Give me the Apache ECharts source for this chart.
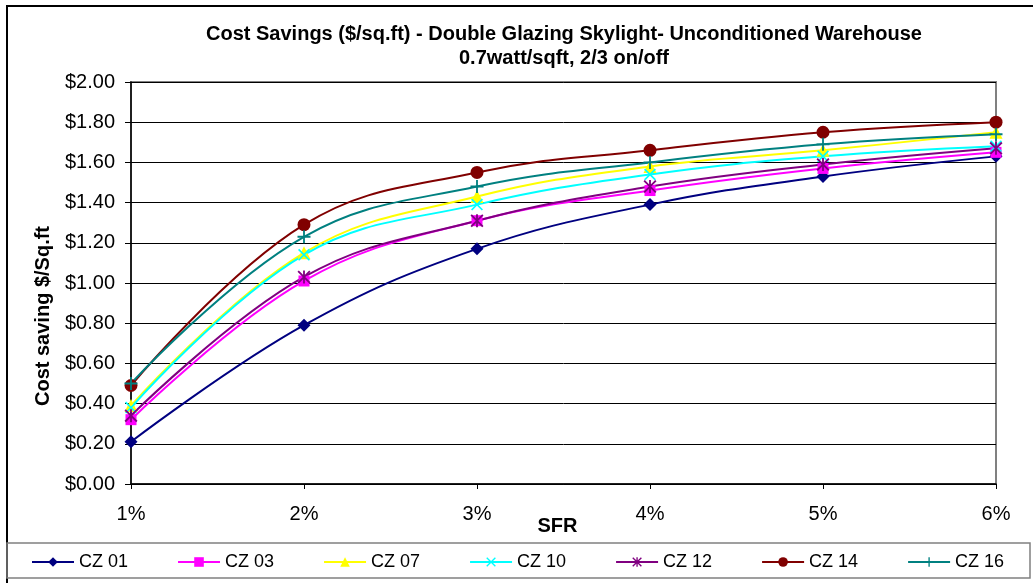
<!DOCTYPE html>
<html>
<head>
<meta charset="utf-8">
<script src="https://cdn.jsdelivr.net/npm/echarts@6/dist/echarts.min.js"></script>
<style>
  html, body { margin: 0; padding: 0; background: #fff; }
  #main { width: 1033px; height: 583px; }
</style>
</head>
<body>
<div id="main"></div>
<script>
// categories (SFR) and series values
var sfr = ['1%', '2%', '3%', '4%', '5%', '6%'];
var seriesNames = ['CZ 01', 'CZ 03', 'CZ 07', 'CZ 10', 'CZ 12', 'CZ 14', 'CZ 16'];
var cz01 = [0.21, 0.79, 1.17, 1.39, 1.53, 1.63];
var cz03 = [0.32, 1.01, 1.31, 1.46, 1.57, 1.65];
var cz07 = [0.39, 1.15, 1.43, 1.58, 1.66, 1.75];
var cz10 = [0.38, 1.14, 1.39, 1.54, 1.63, 1.68];
var cz12 = [0.34, 1.03, 1.31, 1.48, 1.59, 1.67];
var cz14 = [0.49, 1.29, 1.55, 1.66, 1.75, 1.80];
var cz16 = [0.50, 1.23, 1.48, 1.60, 1.69, 1.74];

document.addEventListener('DOMContentLoaded', function() {
    var myChart = echarts.init(document.getElementById('main'), null, { renderer: 'canvas' });

    // marker shapes like the Excel ones
    var xPath = 'path://M0,1 L1,0 L10,9 L9,10 Z M9,0 L10,1 L1,10 L0,9 Z';
    var starPath = 'path://M0,1 L1,0 L10,9 L9,10 Z M9,0 L10,1 L1,10 L0,9 Z M4.3,0 L5.7,0 L5.7,10 L4.3,10 Z';
    var plusPath = 'path://M4.3,0 L5.7,0 L5.7,10 L4.3,10 Z M0,4.3 L10,4.3 L10,5.7 L0,5.7 Z';

    var data = [cz01, cz03, cz07, cz10, cz12, cz14, cz16];
    var colors = ['#000080', '#FF00FF', '#FFFF00', '#00FFFF', '#800080', '#800000', '#008080'];
    var symbols = ['diamond', 'rect', 'triangle', xPath, starPath, 'circle', plusPath];
    var sizes = [13, 11, 13, 12, 13, 13, 13];

    var series = seriesNames.map(function(name, i) {
        return {
            name: name,
            type: 'line',
            data: data[i],
            smooth: 0.4,
            symbol: symbols[i],
            symbolSize: sizes[i],
            showAllSymbol: true,
            lineStyle: { color: colors[i], width: 2 },
            itemStyle: { color: colors[i], borderColor: colors[i], borderWidth: 0 }
        };
    });

    var option = {
        backgroundColor: '#ffffff',
        animation: false,
        color: colors,
        title: {
            text: 'Cost Savings ($/sq.ft) - Double Glazing Skylight- Unconditioned Warehouse\n0.7watt/sqft, 2/3 on/off',
            left: 564,
            top: 22,
            padding: 0,
            textAlign: 'center',
            textStyle: {
                fontFamily: 'Liberation Sans, Arial, sans-serif',
                fontSize: 20,
                fontWeight: 'bold',
                color: '#000',
                lineHeight: 24
            }
        },
        legend: {
            data: seriesNames,
            left: 31,
            top: 553,
            padding: 0,
            itemWidth: 42,
            itemHeight: 12,
            itemGap: 49,
            textStyle: {
                fontFamily: 'Liberation Sans, Arial, sans-serif',
                fontSize: 18,
                color: '#000'
            }
        },
        grid: {
            left: 131,
            right: 37,
            top: 82,
            bottom: 99,
            show: true,
            borderColor: '#808080',
            borderWidth: 2,
            backgroundColor: '#ffffff'
        },
        xAxis: {
            type: 'category',
            data: sfr,
            boundaryGap: false,
            name: 'SFR',
            nameLocation: 'middle',
            nameGap: 32,
            nameMoveOverlap: false,
            nameTextStyle: {
                fontFamily: 'Liberation Sans, Arial, sans-serif',
                fontSize: 20,
                fontWeight: 'bold',
                color: '#000',
                padding: [0, 12, 0, 0]
            },
            axisLine: { lineStyle: { color: '#000', width: 1.5 } },
            axisTick: { show: true, inside: false, length: 5, alignWithLabel: true, lineStyle: { color: '#000' } },
            axisLabel: {
                fontFamily: 'Liberation Sans, Arial, sans-serif',
                fontSize: 20,
                color: '#000',
                margin: 20
            },
            splitLine: { show: false }
        },
        yAxis: {
            type: 'value',
            min: 0,
            max: 2,
            interval: 0.2,
            name: 'Cost saving $/Sq.ft',
            nameLocation: 'middle',
            nameGap: 78,
            nameRotate: 90,
            nameMoveOverlap: false,
            nameTextStyle: {
                fontFamily: 'Liberation Sans, Arial, sans-serif',
                fontSize: 20,
                fontWeight: 'bold',
                color: '#000',
                padding: [0, 66, 0, 0]
            },
            axisLine: { show: true, lineStyle: { color: '#000', width: 1.5 } },
            axisTick: { show: true, inside: false, length: 6, lineStyle: { color: '#000' } },
            axisLabel: {
                fontFamily: 'Liberation Sans, Arial, sans-serif',
                fontSize: 20,
                color: '#000',
                margin: 16,
                formatter: function(v) { return '$' + v.toFixed(2); }
            },
            splitLine: { show: true, lineStyle: { color: '#000', width: 1 } }
        },
        graphic: [
            {
                type: 'rect',
                z: -10,
                shape: { x: 7, y: 6, width: 1040, height: 600 },
                style: { fill: 'none', stroke: '#000', lineWidth: 2 }
            },
            {
                type: 'rect',
                z: -10,
                shape: { x: 7, y: 543, width: 1023, height: 35 },
                style: { fill: 'none', stroke: '#808080', lineWidth: 1.5 }
            }
        ],
        series: series
    };

    myChart.setOption(option);
});
</script>
</body>
</html>
